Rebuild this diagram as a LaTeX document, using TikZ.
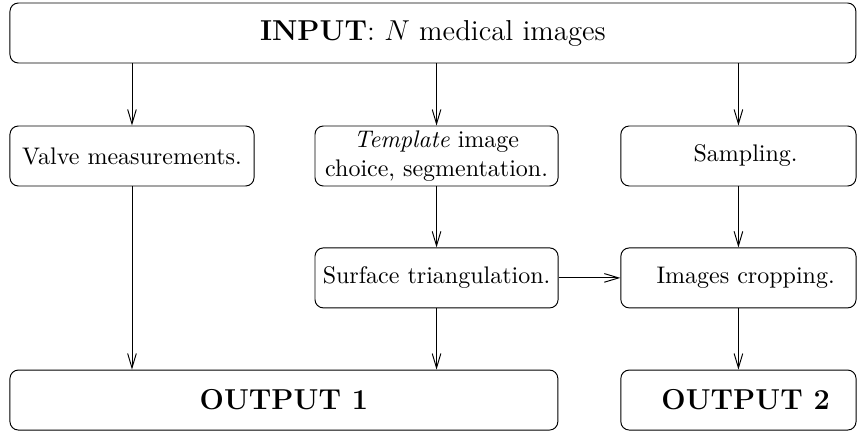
\documentclass[tikz,border=0pt]{standalone}
\usetikzlibrary{arrows.meta}
\tikzset{box/.style={draw, rounded corners=3.5pt, minimum height=25pt, align=center, inner sep=2pt}}
\begin{document}
\begin{tikzpicture}[x=1pt, y=1pt, >={Straight Barb[length=6pt,width=3.6pt]}]
\useasboundingbox (0,0) rectangle (357.1,180);

\node[box, minimum width=352.5pt] (inp) at (180.4,166.25) {\large\textbf{INPUT}: $N$ medical images};

\node[box, minimum width=101.7pt] (val) at (55,115) {Valve measurements.};
\node[box, minimum width=101.3pt] (tpl) at (181.9,115) {\textit{Template} image\\choice, segmentation.};
\node[box, minimum width=98pt] (smp) at (307.7,115) {\hspace*{6pt}Sampling.};

\node[box, minimum width=101.3pt] (srf) at (181.9,64.2) {Surface triangulation.};
\node[box, minimum width=98pt] (crp) at (307.7,64.2) {\hspace*{6pt}Images cropping.};

\node[box, minimum width=228.3pt] (out1) at (118.3,13.3) {\large\textbf{OUTPUT 1}};
\node[box, minimum width=98pt] (out2) at (307.7,13.3) {\hspace*{6pt}\large\textbf{OUTPUT 2}};

\draw[->](inp.south -| val.north)--(val.north);
\draw[->](inp.south -| tpl.north)--(tpl.north);
\draw[->](inp.south -| smp.north)--(smp.north);

\draw[->](tpl)--(srf);
\draw[->](smp)--(crp);
\draw[->](srf)--(crp);
\draw[->](crp)--(out2);

\draw[->](val.south)--(val.south |- out1.north);
\draw[->](srf.south)--(srf.south |- out1.north);

\end{tikzpicture}
\end{document}
